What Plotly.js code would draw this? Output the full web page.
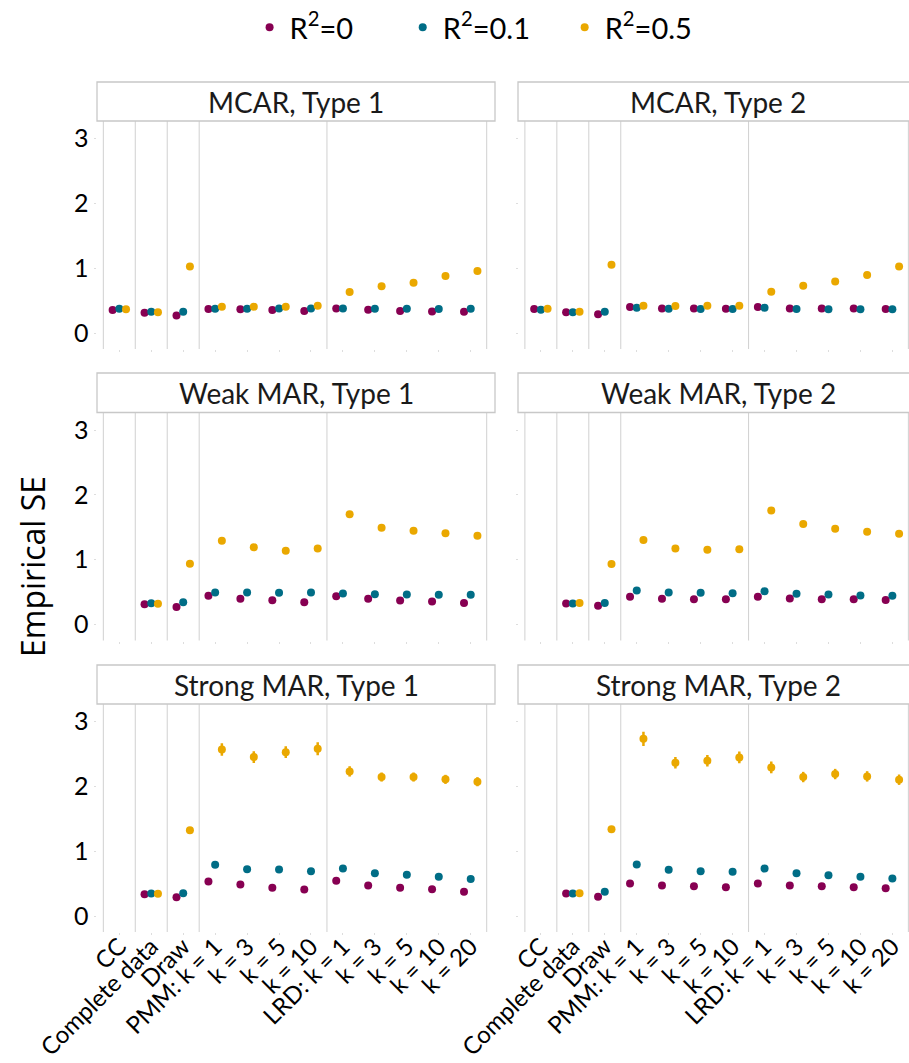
<!DOCTYPE html>
<html>
<head>
<meta charset="utf-8">
<script src="https://cdn.plot.ly/plotly-3.0.1.min.js"></script>
<style>html,body{margin:0;padding:0;background:#fff;overflow:hidden}</style>
</head>
<body>
<div id="chart" style="width:909px;height:1063px"></div>
<script>
const categories = ['CC','Complete data','Draw','PMM: k = 1','k = 3','k = 5','k = 10','LRD: k = 1','k = 3','k = 5','k = 10','k = 20'];
const seriesNames = ['R<sup>2</sup>=0','R<sup>2</sup>=0.1','R<sup>2</sup>=0.5'];
const panelTitles = ['MCAR, Type 1','MCAR, Type 2','Weak MAR, Type 1','Weak MAR, Type 2','Strong MAR, Type 1','Strong MAR, Type 2'];
const yTicks = [0,1,2,3];

const mcar1_r0  = [0.356,0.314,0.273,0.371,0.366,0.356,0.340,0.381,0.361,0.340,0.335,0.330];
const mcar1_r01 = [0.376,0.330,0.330,0.376,0.376,0.381,0.381,0.381,0.376,0.376,0.371,0.376];
const mcar1_r05 = [0.366,0.320,1.026,0.407,0.407,0.407,0.423,0.634,0.722,0.778,0.881,0.959];
const mcar2_r0  = [0.371,0.320,0.289,0.402,0.381,0.381,0.376,0.402,0.381,0.381,0.381,0.371];
const mcar2_r01 = [0.361,0.320,0.330,0.392,0.376,0.371,0.371,0.392,0.371,0.366,0.366,0.366];
const mcar2_r05 = [0.376,0.330,1.052,0.423,0.418,0.423,0.423,0.639,0.732,0.794,0.897,1.026];
const weak1_r0  = [null,0.314,0.273,0.443,0.397,0.376,0.345,0.438,0.397,0.371,0.356,0.335];
const weak1_r01 = [null,0.330,0.345,0.495,0.495,0.490,0.495,0.479,0.469,0.464,0.459,0.459];
const weak1_r05 = [null,0.320,0.938,1.294,1.191,1.139,1.175,1.701,1.495,1.448,1.407,1.371];
const weak2_r0  = [null,0.325,0.289,0.428,0.397,0.392,0.392,0.428,0.402,0.392,0.392,0.381];
const weak2_r01 = [null,0.325,0.335,0.526,0.495,0.490,0.485,0.515,0.474,0.464,0.448,0.443];
const weak2_r05 = [null,0.335,0.933,1.304,1.175,1.155,1.160,1.758,1.552,1.479,1.433,1.402];
const strong1_r0  = [null,0.338,0.292,0.533,0.487,0.436,0.410,0.544,0.472,0.436,0.415,0.374];
const strong1_r01 = [null,0.349,0.354,0.790,0.723,0.718,0.692,0.733,0.662,0.636,0.605,0.574];
const strong1_r05 = [null,0.344,1.323,2.569,2.451,2.528,2.579,2.231,2.144,2.144,2.108,2.072];
const strong1_r05_err = [null,0.01,0.02,0.095,0.09,0.09,0.10,0.08,0.07,0.07,0.07,0.07];
const strong2_r0  = [null,0.349,0.297,0.503,0.472,0.462,0.446,0.503,0.472,0.462,0.446,0.431];
const strong2_r01 = [null,0.349,0.374,0.795,0.713,0.692,0.682,0.733,0.662,0.631,0.605,0.579];
const strong2_r05 = [null,0.354,1.338,2.733,2.364,2.395,2.446,2.292,2.144,2.190,2.154,2.103];
const strong2_r05_err = [null,0.01,0.02,0.11,0.09,0.09,0.09,0.09,0.08,0.08,0.08,0.08];

const panels = [
  [mcar1_r0, mcar1_r01, mcar1_r05, null],
  [mcar2_r0, mcar2_r01, mcar2_r05, null],
  [weak1_r0, weak1_r01, weak1_r05, null],
  [weak2_r0, weak2_r01, weak2_r05, null],
  [strong1_r0, strong1_r01, strong1_r05, strong1_r05_err],
  [strong2_r0, strong2_r01, strong2_r05, strong2_r05_err]
];

const colors = ['#870052','#006d86','#eaa800'];
const dodge = [-0.21, 0, 0.21];
const legendPad = ['\u00a0\u00a0\u00a0\u00a0\u00a0\u00a0', '\u00a0\u00a0\u00a0\u00a0', ''];
const W = 909, H = 1063;
const px = v => v / W, py = v => 1 - v / H;

// panel geometry (pixels)
const colX = [[96.5, 495], [518.5, 909]];
const colRange = [[-0.714, 11.76], [-0.70, 11.52]];
const rowY = [[121, 349], [412.5, 640.5], [704, 932]];
const stripY = [[82, 121], [373, 412.5], [665, 704]];
const stripX = [[97, 495], [518, 918]];
const yRange = [-0.245, 3.27];
const separators = [-0.5, 0.5, 1.5, 2.5, 6.5, 11.5];

const traces = [];
const layout = {
  width: W, height: H,
  margin: {l:0, r:0, t:0, b:0},
  paper_bgcolor: '#fff', plot_bgcolor: '#fff',
  font: {family: 'Lato, sans-serif', color: '#000'},
  showlegend: true,
  legend: {orientation: 'h', x: 0.521, xanchor: 'center', y: 1 - 2/H, yanchor: 'top',
           font: {size: 29, family: 'Lato, sans-serif', color: '#000'}, itemwidth: 30},
  shapes: [], annotations: []
};

panels.forEach((p, i) => {
  const row = Math.floor(i / 2), col = i % 2;
  const sfx = i === 0 ? '' : String(i + 1);
  const xa = 'x' + sfx, ya = 'y' + sfx;
  layout['xaxis' + sfx] = {
    domain: [px(colX[col][0]), px(colX[col][1])],
    range: colRange[col], anchor: ya,
    tickmode: 'array', tickvals: categories.map((c, k) => k), ticktext: categories,
    showticklabels: row === 2, tickangle: -45, ticklabelstandoff: -12,
    tickfont: {size: 24, family: 'Lato, sans-serif', color: '#000'},
    ticks: 'outside', ticklen: 2, tickcolor: '#dddddd',
    showgrid: false, zeroline: false, showline: false, fixedrange: true
  };
  layout['yaxis' + sfx] = {
    domain: [py(rowY[row][1]), py(rowY[row][0])],
    range: yRange, anchor: xa,
    tickmode: 'array', tickvals: yTicks, ticktext: yTicks.map(String),
    showticklabels: col === 0,
    tickfont: {size: 25, family: 'Lato, sans-serif', color: '#000'},
    ticks: 'outside', ticklen: 2, tickcolor: '#dddddd',
    showgrid: false, zeroline: false, showline: false, fixedrange: true
  };
  separators.forEach(s => layout.shapes.push({
    type: 'line', xref: xa, yref: ya + ' domain', x0: s, x1: s, y0: 0, y1: 1,
    line: {color: '#d0d0d0', width: 1}, layer: 'below'
  }));
  layout.shapes.push({
    type: 'rect', xref: 'paper', yref: 'paper',
    x0: px(stripX[col][0]), x1: px(stripX[col][1]),
    y0: py(stripY[row][1]), y1: py(stripY[row][0]),
    fillcolor: '#ffffff', line: {color: '#c8c8c8', width: 1.3}
  });
  layout.annotations.push({
    xref: 'paper', yref: 'paper',
    x: px((stripX[col][0] + stripX[col][1]) / 2), y: py((stripY[row][0] + stripY[row][1]) / 2),
    text: panelTitles[i], showarrow: false, xanchor: 'center', yanchor: 'middle',
    font: {size: 28, family: 'Lato, sans-serif', color: '#1a1a1a'}
  });
  for (let s = 0; s < 3; s++) {
    const t = {
      type: 'scatter', mode: 'markers', name: seriesNames[s] + legendPad[s], legendgroup: 'g' + s,
      showlegend: i === 0, xaxis: xa, yaxis: ya,
      x: categories.map((c, k) => k + dodge[s]), y: p[s],
      marker: {color: colors[s], size: 8}, cliponaxis: false
    };
    if (s === 2 && p[3]) {
      t.error_y = {type: 'data', array: p[3], visible: true, color: colors[s], thickness: 2.5, width: 0};
    }
    traces.push(t);
  }
});

layout.annotations.push({
  xref: 'paper', yref: 'paper', x: px(32), y: py(567), textangle: -90,
  text: 'Empirical SE', showarrow: false, xanchor: 'center', yanchor: 'middle',
  font: {size: 32, family: 'Open Sans, sans-serif', color: '#000'}
});

Plotly.newPlot('chart', traces, layout, {displayModeBar: false, staticPlot: true});
</script>
</body>
</html>
